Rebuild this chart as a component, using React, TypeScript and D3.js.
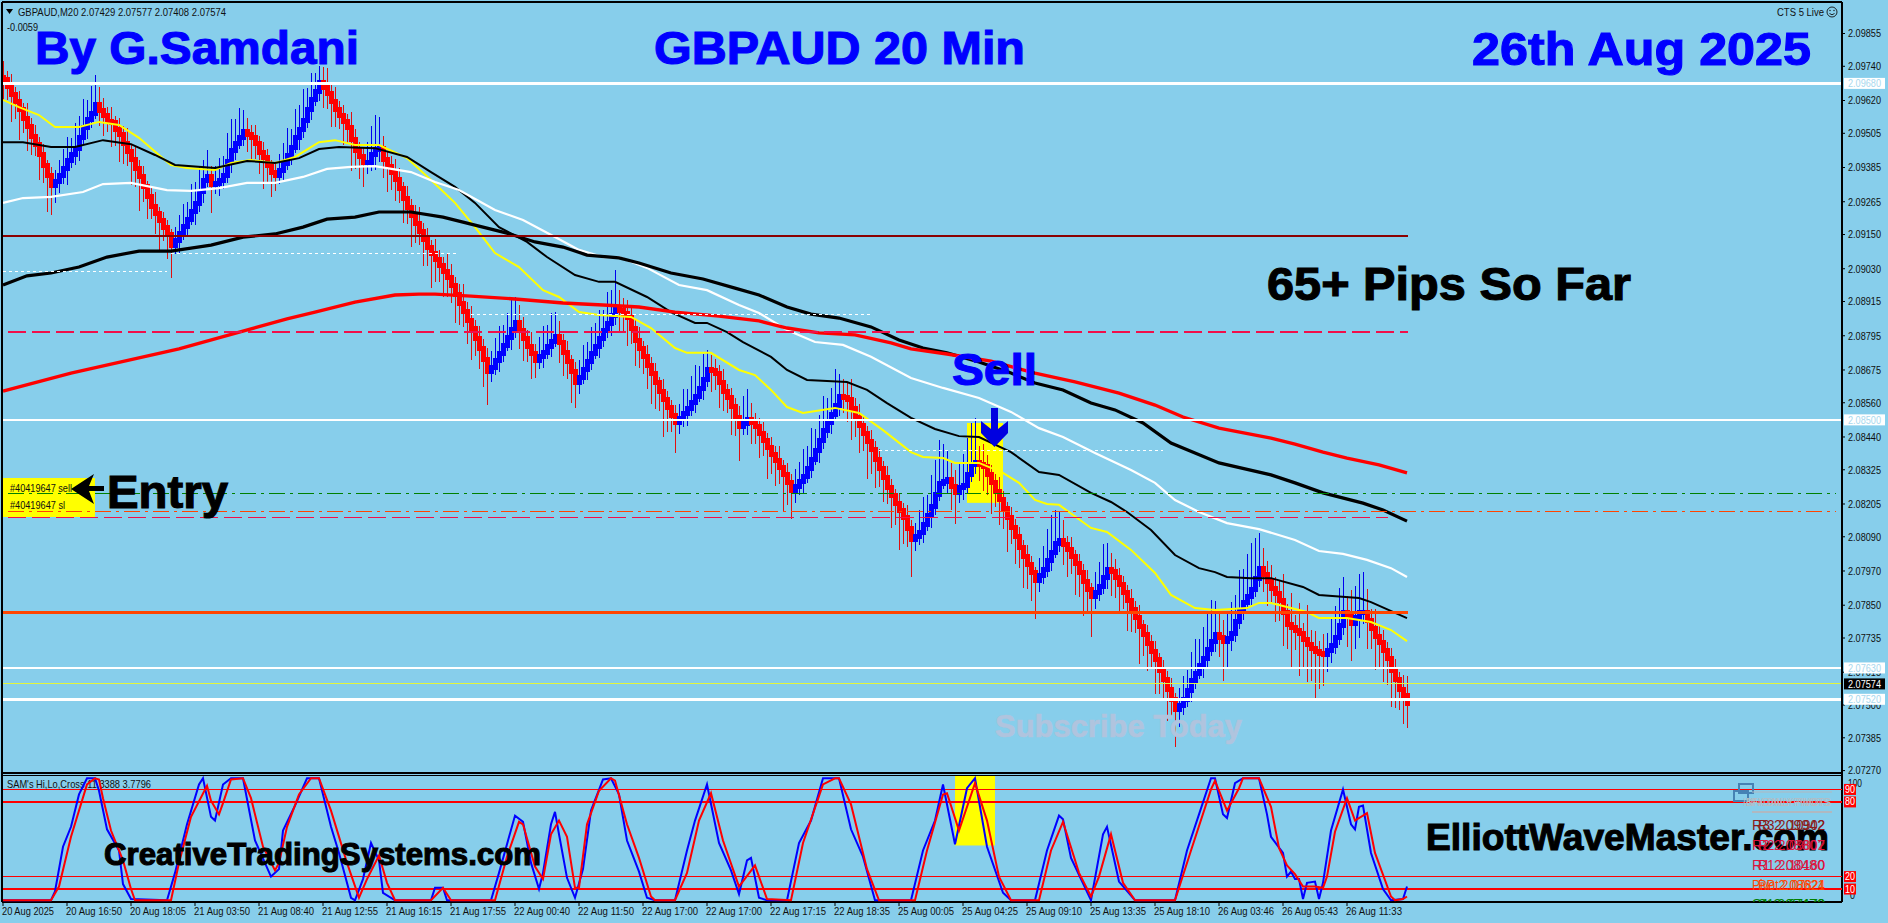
import React from 'react';
import * as d3 from 'd3';

// prices are kept as points above 2.07000
const BASE = 2.07;
const px = (pts: number) => BASE + pts / 100000;

const closes = [
  2692,2668,2641,2615,2590,2556,2528,2494,2466,2432,
  2392,2358,2322,2336,2358,2380,2408,2430,2452,2490,
  2524,2552,2576,2606,2584,2566,2548,2542,2520,2500,
  2468,2440,2412,2382,2352,2318,2284,2248,2222,2198,
  2176,2150,2113,2128,2155,2178,2203,2232,2260,2300,
  2341,2352,2326,2330,2338,2356,2405,2446,2470,2490,
  2510,2500,2490,2470,2436,2420,2392,2366,2358,2374,
  2400,2428,2456,2490,2520,2550,2590,2622,2652,2682,
  2664,2646,2618,2587,2566,2548,2526,2484,2446,2424,
  2402,2404,2432,2448,2452,2412,2390,2366,2342,2310,
  2275,2246,2218,2190,2162,2134,2106,2084,2062,2040,
  2020,2000,1970,1938,1908,1880,1850,1820,1785,1750,
  1712,1668,1682,1708,1734,1762,1790,1818,1842,1815,
  1786,1758,1732,1708,1722,1738,1756,1774,1792,1770,
  1738,1704,1668,1632,1650,1676,1704,1732,1758,1784,
  1812,1838,1866,1894,1884,1872,1858,1820,1780,1752,
  1722,1692,1664,1632,1600,1570,1544,1516,1490,1504,
  1524,1540,1560,1582,1610,1642,1676,1672,1664,1632,
  1600,1578,1546,1510,1476,1488,1500,1490,1476,1452,
  1428,1404,1380,1358,1334,1308,1280,1254,1268,1284,
  1302,1330,1362,1394,1428,1462,1490,1518,1550,1582,
  1578,1572,1540,1510,1480,1452,1424,1396,1362,1330,
  1298,1264,1236,1208,1182,1156,1118,1080,1090,1104,
  1134,1166,1196,1240,1278,1284,1290,1268,1244,1264,
  1270,1308,1344,1350,1344,1336,1308,1280,1250,1220,
  1188,1156,1124,1090,1054,1020,992,964,938,954,
  974,1006,1036,1068,1078,1062,1044,1020,996,964,
  932,904,880,896,916,946,974,968,946,924,
  896,868,836,806,774,746,716,686,658,622,
  588,554,518,484,500,518,552,586,612,640,
  664,696,722,746,738,724,734,752,792,832,
  858,880,904,944,980,956,932,910,890,868,
  826,782,772,762,752,730,712,698,686,680,
  676,692,708,736,780,824,812,786,806,824,
  826,796,768,742,718,692,664,622,590,556,
  532,506,
];

const highWicks = [
  60,30,45,25,40,20,55,30,40,25,
  35,20,30,40,55,70,85,60,90,75,
  100,70,95,105,60,45,30,50,25,40,
  30,55,25,45,30,40,20,35,50,25,
  30,25,20,50,65,80,60,95,75,90,
  70,95,40,60,80,70,100,110,85,105,
  75,50,35,45,25,40,30,20,30,60,
  70,95,65,100,85,110,75,95,65,60,
  55,70,35,50,30,40,25,55,35,30,
  30,70,100,120,110,45,30,35,50,40,
  25,45,30,35,55,30,40,25,50,35,
  30,60,45,30,40,70,35,50,30,45,
  35,40,60,80,95,70,85,110,90,60,
  45,30,50,35,70,90,75,100,85,55,
  30,40,25,35,60,85,70,95,80,100,
  75,110,90,130,60,45,50,35,30,45,
  25,40,30,35,20,45,30,25,35,50,
  85,70,95,110,80,90,70,50,40,30,
  45,25,35,30,40,95,110,60,35,30,
  40,25,35,30,50,25,40,30,60,70,
  95,80,110,75,90,120,85,95,130,80,
  60,50,70,35,45,30,25,40,30,35,
  25,40,30,20,35,25,45,30,50,80,
  95,70,110,120,150,130,100,60,55,85,
  110,130,145,155,60,70,40,35,30,50,
  30,25,40,30,35,25,40,30,20,60,
  85,110,130,115,100,70,30,45,25,35,
  30,40,25,70,85,120,95,60,45,35,
  30,25,40,30,45,25,35,30,40,25,
  35,30,40,25,60,85,70,100,120,90,
  110,130,145,120,75,60,85,110,95,140,
  120,150,165,140,125,70,50,60,40,45,
  90,30,110,45,95,35,120,50,60,40,
  70,60,100,110,130,125,60,90,110,135,
  140,80,40,70,35,45,30,35,40,25,
  50,70,
];

const lowWicks = [
  70,45,95,60,110,50,85,65,40,90,
  60,130,105,60,40,30,55,25,35,45,
  25,40,30,20,55,70,40,85,60,95,
  70,50,90,65,120,55,80,45,70,110,
  50,85,115,30,45,25,35,20,50,30,
  40,25,100,35,45,30,25,40,35,20,
  30,60,85,55,75,110,60,85,55,30,
  40,25,35,20,45,30,25,40,20,35,
  70,55,90,60,45,85,55,110,65,80,
  85,40,30,55,45,65,90,60,75,50,
  85,60,110,70,50,95,65,120,80,55,
  90,70,60,100,75,55,85,110,60,70,
  95,115,35,25,40,30,20,45,30,65,
  80,55,90,60,30,40,25,35,20,70,
  85,60,110,90,40,25,35,30,20,40,
  30,25,45,35,80,65,100,55,90,70,
  60,85,110,95,70,130,85,60,105,40,
  30,45,25,35,20,40,25,75,60,90,
  70,55,100,65,120,30,40,75,60,85,
  55,110,70,90,60,130,80,100,45,30,
  40,25,35,20,45,30,25,40,20,35,
  55,80,110,70,95,60,130,85,100,65,
  85,60,115,75,140,90,65,130,40,30,
  35,25,45,30,25,20,40,85,110,35,
  45,30,25,35,60,85,70,110,55,90,
  70,120,60,95,75,110,85,100,135,40,
  30,25,35,20,30,70,95,60,110,85,
  120,75,140,45,30,25,40,85,70,100,
  60,110,80,55,130,75,95,60,120,85,
  70,110,55,130,60,35,25,40,30,20,
  45,30,25,35,70,140,90,45,30,25,
  35,20,30,25,30,60,85,50,100,75,
  120,85,140,70,150,95,130,115,160,125,
  110,60,45,30,25,35,110,130,90,70,
  40,100,70,120,85,110,95,130,100,75,
  100,85,
];

type Pt = [number, number];

const yellowMA: Pt[] = [[0,2622],[4,2597],[9,2569],[13,2527],[19,2527],[24,2545],[29,2534],[34,2489],[39,2429],[42,2394],[46,2383],[53,2376],[57,2401],[62,2411],[68,2401],[73,2422],[79,2474],[83,2481],[88,2464],[94,2464],[101,2418],[107,2341],[113,2261],[118,2176],[123,2085],[129,2036],[135,1955],[139,1931],[144,1878],[149,1868],[157,1861],[162,1822],[168,1752],[171,1735],[177,1735],[184,1675],[188,1657],[192,1605],[196,1545],[200,1524],[208,1542],[214,1524],[220,1464],[227,1387],[230,1370],[235,1366],[238,1349],[244,1349],[250,1314],[254,1279],[258,1219],[261,1205],[264,1202],[272,1121],[276,1107],[282,1044],[288,963],[292,886],[298,840],[303,833],[311,840],[314,858],[317,858],[326,826],[329,805],[336,805],[342,791],[347,763],[351,724]];
const thinBlackMA: Pt[] = [[0,2474],[5,2474],[12,2457],[18,2457],[25,2481],[32,2467],[38,2429],[43,2394],[53,2383],[61,2408],[68,2401],[74,2418],[79,2450],[84,2457],[93,2453],[101,2422],[107,2369],[113,2317],[118,2261],[124,2176],[131,2124],[136,2071],[143,2008],[149,1984],[153,1984],[161,1931],[167,1878],[173,1840],[176,1840],[181,1808],[185,1773],[192,1721],[196,1675],[201,1640],[211,1633],[216,1605],[221,1559],[227,1507],[233,1468],[239,1443],[244,1440],[252,1387],[259,1317],[264,1307],[272,1244],[277,1212],[281,1177],[287,1114],[293,1026],[299,980],[303,966],[306,949],[312,945],[317,945],[325,914],[329,886],[339,875],[342,861],[351,805]];
const whiteMA: Pt[] = [[0,2261],[5,2278],[12,2282],[20,2299],[25,2327],[32,2331],[41,2306],[47,2303],[54,2313],[61,2331],[68,2331],[75,2352],[81,2380],[87,2387],[93,2390],[102,2369],[108,2334],[114,2306],[123,2236],[130,2201],[138,2141],[144,2096],[150,2071],[154,2071],[161,2033],[169,1973],[176,1955],[184,1903],[189,1875],[196,1815],[203,1773],[210,1763],[217,1721],[227,1647],[235,1612],[244,1577],[252,1528],[259,1471],[265,1440],[273,1384],[282,1324],[288,1279],[293,1219],[299,1177],[306,1138],[314,1117],[323,1079],[329,1040],[335,1030],[341,1009],[347,980],[351,949]];
const thickBlackMA: Pt[] = [[0,1973],[6,2005],[12,2015],[19,2036],[26,2071],[34,2092],[42,2092],[52,2113],[60,2141],[68,2152],[75,2176],[81,2204],[88,2211],[94,2229],[102,2229],[110,2211],[118,2183],[126,2155],[133,2124],[140,2106],[146,2078],[154,2068],[159,2050],[167,2015],[175,1994],[183,1962],[189,1938],[196,1896],[202,1871],[209,1857],[217,1826],[224,1780],[230,1752],[236,1735],[244,1703],[252,1664],[258,1629],[265,1605],[272,1559],[278,1535],[285,1489],[292,1419],[298,1384],[304,1349],[317,1307],[323,1279],[330,1244],[340,1208],[345,1184],[351,1145]];
const redMA: Pt[] = [[0,1601],[17,1664],[44,1749],[71,1854],[78,1878],[88,1913],[98,1938],[104,1941],[108,1941],[117,1934],[128,1924],[140,1910],[150,1903],[159,1896],[168,1878],[179,1864],[189,1847],[196,1822],[204,1805],[213,1798],[222,1770],[227,1749],[236,1731],[247,1706],[258,1664],[268,1633],[279,1594],[288,1552],[295,1510],[304,1471],[317,1436],[323,1415],[330,1387],[336,1366],[344,1342],[351,1314]];

const stochBlue: Pt[] = [[0,1],[12,1],[13,8],[15,44],[17,60],[19,86],[21,99],[23,99],[24,89],[26,58],[29,41],[30,14],[32,2],[41,1],[43,23],[46,62],[49,94],[50,99],[52,68],[53,65],[55,94],[57,99],[60,99],[63,49],[67,20],[69,26],[70,57],[73,77],[76,99],[79,99],[82,60],[84,39],[87,3],[88,1],[90,18],[92,47],[94,33],[95,7],[98,1],[107,1],[108,11],[110,11],[111,1],[122,1],[124,23],[128,69],[130,64],[132,31],[134,10],[135,23],[137,62],[138,72],[139,54],[141,19],[143,3],[145,26],[147,73],[150,98],[152,99],[154,86],[156,49],[159,24],[161,3],[163,1],[168,1],[171,41],[173,65],[176,94],[179,47],[182,25],[184,6],[186,33],[187,35],[189,3],[191,1],[196,1],[199,47],[202,65],[205,99],[209,99],[212,58],[215,36],[218,1],[227,1],[230,41],[233,65],[235,94],[238,46],[241,91],[243,99],[246,44],[250,7],[252,1],[258,1],[261,41],[264,69],[265,66],[267,35],[272,1],[275,54],[276,60],[279,16],[283,1],[293,1],[296,41],[299,70],[302,99],[303,99],[305,70],[306,67],[308,95],[310,99],[314,99],[316,70],[317,52],[320,39],[321,20],[322,24],[323,18],[324,18],[325,2],[326,15],[328,16],[329,2],[330,15],[332,57],[335,90],[337,62],[338,58],[339,76],[340,77],[342,39],[345,10],[347,1],[350,2],[351,12]];
const stochRed: Pt[] = [[0,1],[12,1],[14,12],[17,52],[21,94],[23,99],[24,98],[25,83],[27,57],[30,33],[32,10],[33,1],[42,1],[44,31],[47,68],[51,93],[52,81],[54,70],[55,79],[57,98],[60,99],[62,83],[65,44],[68,25],[69,31],[71,60],[74,86],[77,99],[79,99],[82,73],[86,31],[89,3],[91,18],[94,37],[96,15],[98,1],[107,1],[110,11],[112,1],[123,1],[126,36],[129,64],[130,62],[133,28],[135,18],[137,54],[139,65],[141,52],[143,11],[144,11],[146,62],[149,89],[152,99],[153,97],[156,62],[159,35],[162,4],[163,1],[168,1],[171,23],[174,65],[177,87],[180,49],[184,12],[188,29],[191,2],[197,1],[200,47],[205,94],[208,99],[209,99],[212,78],[216,26],[219,1],[228,1],[231,41],[235,86],[236,87],[239,57],[243,95],[246,65],[249,20],[252,1],[259,1],[262,41],[265,64],[269,23],[272,4],[274,20],[277,54],[280,15],[283,1],[293,1],[297,41],[302,90],[303,97],[306,73],[309,91],[310,99],[314,99],[317,76],[319,43],[321,29],[323,22],[325,12],[328,12],[330,11],[331,20],[333,56],[336,83],[338,65],[341,71],[343,39],[347,4],[348,1],[350,2],[351,4]];

const priceTicks = ['2.09855','2.09740','2.09620','2.09505','2.09385','2.09265','2.09150','2.09030','2.08915','2.08795','2.08675','2.08560','2.08440','2.08325','2.08205','2.08090','2.07970','2.07850','2.07735','2.07615','2.07500','2.07385','2.07270'];
const timeTicks = ['20 Aug 2025','20 Aug 16:50','20 Aug 18:05','21 Aug 03:50','21 Aug 08:40','21 Aug 12:55','21 Aug 16:15','21 Aug 17:55','22 Aug 00:40','22 Aug 11:50','22 Aug 17:00','22 Aug 17:00','22 Aug 17:15','22 Aug 18:35','25 Aug 00:05','25 Aug 04:25','25 Aug 09:10','25 Aug 13:35','25 Aug 18:10','26 Aug 03:46','26 Aug 05:43','26 Aug 11:33'];
const TICK_EVERY = 16;

const whiteLevels = [2.0968, 2.085, 2.0763, 2.0752];
const stochLevels = [90, 80, 20, 10];
const dashedSegments: [number, number, number][] = [[0,41,2.09019],[42,114,2.09082],[117,217,2.08871],[219,290,2.08391],[292,351,2.07577]];
const pivots: [string, string, string, number][] = [
  ['R3 2.09942', 'R3 2.10902', '#8b1a1a', 830],
  ['R2 2.08807', 'R2 2.09802', '#dc143c', 850],
  ['R1 2.08480', 'R1 2.10160', '#dc143c', 870],
  ['Pivot 2.07824', 'PP 2.08621', '#ff4500', 890],
  ['S1 2.07470', 'S1 2.07170', '#008000', 909],
];

const BG = '#87ceeb';
const BLUE = '#0000ff';
const RED = '#ff0000';
const AXIS_X = 1842;
const LAST_X = 1408;
const FONT = '"Liberation Sans", Arial, sans-serif';

const x = d3.scaleLinear().domain([0, closes.length - 1]).range([3, 1407]);
const y = d3.scaleLinear().domain([2.09855, 2.0727]).range([33.5, 770.6]);
const yS = d3.scaleLinear().domain([0, 100]).range([901.5, 777]);

const maLine = d3.line<Pt>().x(d => x(d[0])).y(d => y(px(d[1])));
const stochLine = d3.line<Pt>().x(d => x(d[0])).y(d => yS(d[1]));

const Big = ({ x0, x1, base, size, fill, children }: any) => (
  <text x={x0} y={base} fontFamily={FONT} fontWeight="bold" fontSize={size} fill={fill}
    stroke={fill} strokeWidth={1.1} textLength={x1 - x0} lengthAdjust="spacingAndGlyphs">{children}</text>
);

const Small = ({ x0, base, width, fill = '#101010', size = 10.6, children }: any) => (
  <text x={x0} y={base} fontFamily={FONT} fontSize={size} fill={fill}
    textLength={width} lengthAdjust="spacingAndGlyphs">{children}</text>
);

export default function App() {
  const opens = closes.map((c, i) => (i === 0 ? 2700 : closes[i - 1]));

  return (
    <svg width={1888} height={923} style={{ display: 'block', position: 'absolute', left: 0, top: 0 }}>
      <rect width={1888} height={923} fill={BG} />
      <defs>
        <clipPath id="sub"><rect x={2} y={776} width={AXIS_X - 2} height={126} /></clipPath>
        <clipPath id="main"><rect x={3} y={3} width={AXIS_X - 3} height={770} /></clipPath>
      </defs>

      {/* header text */}
      <path d="M6 9 L13 9 L9.5 14 Z" fill="#000" />
      <Small x0={18} base={16} width={208}>GBPAUD,M20  2.07429 2.07577 2.07408 2.07574</Small>
      <Small x0={7} base={31} width={31}>-0.0059</Small>
      <Small x0={1777} base={16} width={47}>CTS 5 Live</Small>
      <g fill="none" stroke="#101010" strokeWidth={0.9}>
        <circle cx={1832} cy={12} r={5} />
        <path d="M1829.5 13.5 Q1832 16 1834.5 13.5" />
      </g>
      <circle cx={1830} cy={10.5} r={0.7} fill="#101010" />
      <circle cx={1834} cy={10.5} r={0.7} fill="#101010" />

      {/* trade highlight */}
      <rect x={x(241)} y={y(px(1489))} width={x(250) - x(241)} height={y(px(1209)) - y(px(1489))} fill="#ffff00" />
      <rect x={3} y={478} width={92} height={39} fill="#ffff00" />

      {/* candles */}
      <g clipPath="url(#main)" shapeRendering="crispEdges">
        {closes.map((c, i) => {
          const o = opens[i];
          const up = c >= o;
          const col = up ? BLUE : RED;
          const top = Math.max(o, c);
          const bot = Math.min(o, c);
          const yt = y(px(top));
          const yb = y(px(bot));
          return (
            <g key={i}>
              <line x1={x(i)} x2={x(i)} y1={y(px(top + highWicks[i]))} y2={y(px(bot - lowWicks[i]))} stroke={up ? '#0000ee' : '#e01010'} strokeWidth={1} />
              <rect x={x(i) - 2.5} y={yt - 2.5} width={5} height={yb - yt + 5} fill={col} />
            </g>
          );
        })}
      </g>

      {/* moving averages */}
      <g fill="none">
        <path d={maLine(yellowMA)!} stroke="#ffff00" strokeWidth={2} />
        <path d={maLine(thinBlackMA)!} stroke="#000" strokeWidth={2} />
        <path d={maLine(whiteMA)!} stroke="#fff" strokeWidth={2.2} />
        <path d={maLine(thickBlackMA)!} stroke="#000" strokeWidth={3.2} />
        <path d={maLine(redMA)!} stroke={RED} strokeWidth={3.4} />
      </g>

      {/* horizontal levels */}
      <g shapeRendering="crispEdges">
        {dashedSegments.map(([a, b, p], i) => (
          <line key={i} x1={x(a)} x2={x(b)} y1={y(p)} y2={y(p)} stroke="#fff" strokeWidth={1} strokeDasharray="3 3" />
        ))}
        <line x1={3} x2={LAST_X} y1={y(2.09145)} y2={y(2.09145)} stroke="#8b0000" strokeWidth={2.4} />
        <line x1={8} x2={LAST_X} y1={y(2.08808)} y2={y(2.08808)} stroke="#f0104a" strokeWidth={1.2} strokeDasharray="18 6" />
        <line x1={8} x2={1836} y1={y(2.08243)} y2={y(2.08243)} stroke="#008000" strokeWidth={1.2} strokeDasharray="16 5 3 5" />
        <line x1={8} x2={1836} y1={y(2.0818)} y2={y(2.0818)} stroke="#ff4500" strokeWidth={1.2} strokeDasharray="16 5 3 5" />
        <line x1={8} x2={1388} y1={y(2.08159)} y2={y(2.08159)} stroke="#f0104a" strokeWidth={1.2} strokeDasharray="18 6" />
        <line x1={3} x2={LAST_X} y1={y(2.07824)} y2={y(2.07824)} stroke="#ff4500" strokeWidth={2.6} />
        <line x1={3} x2={AXIS_X} y1={y(2.07574)} y2={y(2.07574)} stroke="#e4f53c" strokeWidth={1} />
        {whiteLevels.map(v => (
          <line key={v} x1={3} x2={AXIS_X} y1={y(v)} y2={y(v)} stroke="#fff" strokeWidth={2.6} />
        ))}
      </g>

      {/* order labels */}
      <Small x0={10} base={492} width={62}>#40419647 sell</Small>
      <Small x0={10} base={509} width={55}>#40419647 sl</Small>
      <path d="M71 489 L94 474 L89 486 L104 486 L104 491 L89 491 L94 504 Z" fill="#000" />
      <Big x0={107} x1={228} base={508} size={46} fill="#000">Entry</Big>

      {/* headlines */}
      <Big x0={35} x1={359} base={64} size={46} fill={BLUE}>By G.Samdani</Big>
      <Big x0={654} x1={1025} base={64} size={46} fill={BLUE}>GBPAUD 20 Min</Big>
      <Big x0={1472} x1={1811} base={65} size={46} fill={BLUE}>26th Aug 2025</Big>
      <Big x0={1267} x1={1631} base={300} size={46} fill="#000">65+ Pips So Far</Big>
      <Big x0={952} x1={1037} base={385} size={44} fill={BLUE}>Sell</Big>
      <path d="M991 408 L998 408 L998 429 L1008 421 L1008 433 L994.5 447 L981 433 L981 421 L991 429 Z" fill="#0000e0" />
      <text x={995} y={737} fontFamily={FONT} fontWeight="bold" fontSize={32} fill="#b0c4de" stroke="#b0c4de" strokeWidth={0.6} textLength={247} lengthAdjust="spacingAndGlyphs">Subscribe Today</text>

      {/* frames */}
      <g fill="none" stroke="#000" strokeWidth={1.4} shapeRendering="crispEdges">
        <line x1={2} x2={2} y1={2} y2={902} />
        <line x1={AXIS_X} x2={AXIS_X} y1={2} y2={902} />
        <line x1={2} x2={AXIS_X} y1={2} y2={2} />
        <line x1={2} x2={AXIS_X} y1={773} y2={773} />
        <line x1={2} x2={AXIS_X} y1={775.5} y2={775.5} />
        <line x1={2} x2={AXIS_X} y1={902} y2={902} />
      </g>

      {/* price axis */}
      {priceTicks.map(t => (
        <g key={t}>
          <line x1={AXIS_X} x2={AXIS_X + 3} y1={y(+t)} y2={y(+t)} stroke="#000" />
          <Small x0={1848} base={y(+t) + 3.8} width={33}>{t}</Small>
        </g>
      ))}
      {whiteLevels.map(v => (
        <g key={v}>
          <rect x={1844} y={y(v) - 5.5} width={41} height={11} fill="#fff" />
          <Small x0={1848} base={y(v) + 3.8} width={33} fill="#a8d8ee">{v.toFixed(5)}</Small>
        </g>
      ))}
      <rect x={1844} y={y(2.07574) - 5.5} width={41} height={11} fill="#000" />
      <Small x0={1848} base={y(2.07574) + 3.8} width={33} fill="#fff">2.07574</Small>

      {/* indicator panel */}
      <rect x={x(238)} y={776} width={x(248) - x(238)} height={yS(45) - 776} fill="#ffff00" />
      <g shapeRendering="crispEdges">
        {stochLevels.map(v => (
          <line key={v} x1={3} x2={AXIS_X} y1={yS(v)} y2={yS(v)} stroke={RED} strokeWidth={1.2} />
        ))}
      </g>
      <Small x0={7} base={788} width={144}>SAM's Hi,Lo,Cross 11.3388 3.7796</Small>
      <g clipPath="url(#sub)" fill="none" strokeWidth={2}>
        <path d={stochLine(stochBlue)!} stroke={BLUE} />
        <path d={stochLine(stochRed)!} stroke={RED} />
      </g>

      {/* pivots block */}
      <Big x0={1426} x1={1829} base={850} size={37} fill="#000">ElliottWaveMaster.com</Big>
      <g fill="none" stroke="#4682b4" strokeWidth={2}>
        <rect x={1739} y={784} width={14} height={9} />
        <rect x={1734} y={791} width={14} height={10} />
      </g>
      <line x1={1752} x2={1832} y1={792} y2={792} stroke="#b0b8c0" strokeWidth={1} />
      <line x1={1752} x2={1832} y1={812} y2={812} stroke="#b0b8c0" strokeWidth={2} />
      <Small x0={1743} base={806} width={88} fill="#b4bcc4">IBFX DAILY PIVOTS</Small>
      <Small x0={1746} base={806} width={84} fill="#b4bcc4">NN/DAILY PIVOTS</Small>
      <g clipPath="url(#sub)" fontFamily={FONT} fontSize={14}>
        {pivots.map(([a, b, col, base]) => (
          <g key={a} fill={col}>
            <text x={1752} y={base} textLength={73} lengthAdjust="spacingAndGlyphs">{a}</text>
            <text x={1758} y={base} textLength={67} lengthAdjust="spacingAndGlyphs">{b}</text>
          </g>
        ))}
      </g>
      <Big x0={104} x1={541} base={865} size={31} fill="#000">CreativeTradingSystems.com</Big>

      <Small x0={1848} base={787} width={14}>100</Small>
      <Small x0={1850} base={899} width={5}>0</Small>
      {stochLevels.map(v => (
        <g key={v}>
          <rect x={1844} y={yS(v) - 5.5} width={12} height={11} fill={RED} />
          <Small x0={1845} base={yS(v) + 3.5} width={10} fill="#fff">{String(v)}</Small>
        </g>
      ))}

      {/* time axis */}
      {timeTicks.map((t, i) => (
        <g key={i}>
          <line x1={x(i * TICK_EVERY)} x2={x(i * TICK_EVERY)} y1={902} y2={906} stroke="#000" />
          <Small x0={x(i * TICK_EVERY) - 1} base={915} width={t.length > 11 ? 56 : 52}>{t}</Small>
        </g>
      ))}
    </svg>
  );
}
